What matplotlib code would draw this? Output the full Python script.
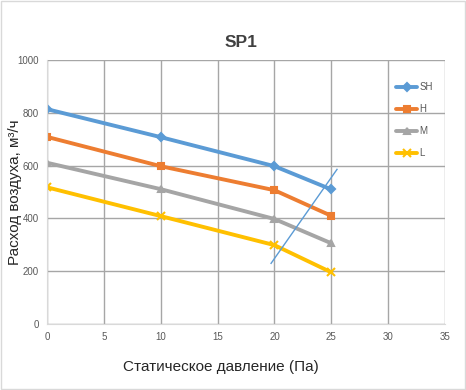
import matplotlib.pyplot as plt
from matplotlib.patches import Rectangle

plt.rcParams['font.family'] = ['Liberation Sans', 'DejaVu Sans']

pressure = [0, 10, 20, 25]
sh = [814, 708, 598, 510]
h = [709, 598, 507, 410]
m = [611, 511, 398, 306]
l = [518, 409, 299, 196]
guide_x = [19.7, 25.5]
guide_y = [230, 586]

fig = plt.figure(figsize=(4.66, 3.9), dpi=100)
ax = fig.add_axes([0.101, 0.169, 0.854, 0.677])

series = [
    (sh, 'SH', '#5B9BD5', 'D', 4),
    (h, 'H', '#ED7D31', 's', 5),
    (m, 'M', '#A5A5A5', '^', 5),
    (l, 'L', '#FFC000', 'x', 6),
]
for vals, name, col, mk, ms in series:
    ax.plot(pressure, vals, color=col, lw=2.8, marker=mk, ms=ms,
            mew=1.5, label=name, solid_capstyle='round')

ax.plot(guide_x, guide_y, color='#5B9BD5', lw=1)

ax.set_xlim(0, 35)
ax.set_ylim(0, 1000)
ax.set_xticks(range(0, 36, 5))
ax.set_yticks(range(0, 1001, 200))
ax.grid(True, color='#A6A6A6', lw=1)
ax.set_axisbelow(True)
ax.tick_params(length=0, labelsize=7, labelcolor='#595959', pad=6)
for s in ax.spines.values():
    s.set_visible(False)
ax.spines['left'].set_visible(True)
ax.spines['left'].set_color('#D9D9D9')
ax.spines['bottom'].set_visible(True)
ax.spines['bottom'].set_color('#D9D9D9')

ax.set_xlabel('Статическое давление (Па)', fontsize=11, color='#262626')
ax.xaxis.set_label_coords(0.437, -0.135)
ax.set_ylabel('Расход воздуха, м³/ч', fontsize=11, color='#262626')
ax.yaxis.set_label_coords(-0.062, 0.5)
fig.text(0.517, 0.892, 'SP1', ha='center', va='center', fontsize=12.5,
         fontweight='bold', color='#404040')

ax.legend(loc='upper left', bbox_to_anchor=(0.855, 0.95), frameon=False,
          fontsize=7, handlelength=2.2, handletextpad=0.2, labelspacing=1.25,
          labelcolor='#595959')

fig.patches.append(Rectangle((0.003, 0.003), 0.994, 0.994, transform=fig.transFigure,
                             fill=False, edgecolor='#D9D9D9', lw=1))
fig.savefig('out.png', dpi=100)
